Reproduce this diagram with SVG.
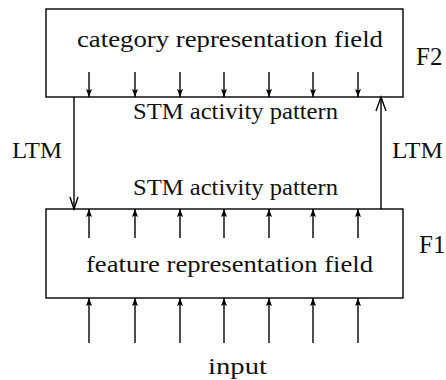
<svg xmlns="http://www.w3.org/2000/svg" width="446" height="380" viewBox="0 0 446 380">
<style>
.box{fill:#fff;stroke:#000;stroke-width:1.4}
.ln{stroke:#000;stroke-width:1.4;fill:none}
.t{font-family:"Liberation Serif","Times New Roman",serif;font-size:24px;fill:#111}
</style>
<defs>
<marker id="fh" markerWidth="8" markerHeight="6" refX="8" refY="3" orient="auto" markerUnits="userSpaceOnUse" viewBox="0 0 8 6">
<path d="M0,0 L1.5,3 L0,6 L8,3 Z" fill="#000"/>
</marker>
</defs>
<rect width="446" height="380" fill="#fff"/>
<g id="F2">
<rect class="box" x="46" y="9" width="357" height="88"/>
<text class="t" x="230" y="47" text-anchor="middle" textLength="306" lengthAdjust="spacingAndGlyphs">category representation field</text>
<text class="t" x="416" y="65" style="font-size:25px">F2</text>
</g>
<g id="F1">
<rect class="box" x="46" y="209" width="357" height="89"/>
<text class="t" x="229.5" y="272" text-anchor="middle" textLength="287" lengthAdjust="spacingAndGlyphs">feature representation field</text>
<text class="t" x="419" y="253" style="font-size:25px">F1</text>
</g>
<g id="connectors">
<g class="ln" marker-end="url(#fh)">
<line x1="89" y1="72" x2="89" y2="97"/>
<line x1="135" y1="72" x2="135" y2="97"/>
<line x1="180" y1="72" x2="180" y2="97"/>
<line x1="224" y1="72" x2="224" y2="97"/>
<line x1="269" y1="72" x2="269" y2="97"/>
<line x1="313" y1="72" x2="313" y2="97"/>
<line x1="358" y1="72" x2="358" y2="97"/>
<line x1="89" y1="238" x2="89" y2="209"/>
<line x1="135" y1="238" x2="135" y2="209"/>
<line x1="180" y1="238" x2="180" y2="209"/>
<line x1="224" y1="238" x2="224" y2="209"/>
<line x1="269" y1="238" x2="269" y2="209"/>
<line x1="313" y1="238" x2="313" y2="209"/>
<line x1="358" y1="238" x2="358" y2="209"/>
<line x1="89" y1="343" x2="89" y2="298"/>
<line x1="135" y1="343" x2="135" y2="298"/>
<line x1="180" y1="343" x2="180" y2="298"/>
<line x1="224" y1="343" x2="224" y2="298"/>
<line x1="269" y1="343" x2="269" y2="298"/>
<line x1="313" y1="343" x2="313" y2="298"/>
<line x1="358" y1="343" x2="358" y2="298"/>
</g>
<line class="ln" x1="74" y1="97" x2="74" y2="209"/>
<path class="ln" d="M70,197 L74,209 L78,197"/>
<line class="ln" x1="381" y1="209" x2="381" y2="97"/>
<path class="ln" d="M376,111 L381,97 L386,111"/>
<text class="t" x="235.5" y="119" text-anchor="middle" textLength="205" lengthAdjust="spacingAndGlyphs">STM activity pattern</text>
<text class="t" x="235.5" y="195" text-anchor="middle" textLength="205" lengthAdjust="spacingAndGlyphs">STM activity pattern</text>
<text class="t" x="12" y="158" textLength="50" lengthAdjust="spacingAndGlyphs">LTM</text>
<text class="t" x="392" y="158" textLength="51" lengthAdjust="spacingAndGlyphs">LTM</text>
<text class="t" x="237.5" y="374" text-anchor="middle" textLength="59" lengthAdjust="spacingAndGlyphs">input</text>
</g>
</svg>
